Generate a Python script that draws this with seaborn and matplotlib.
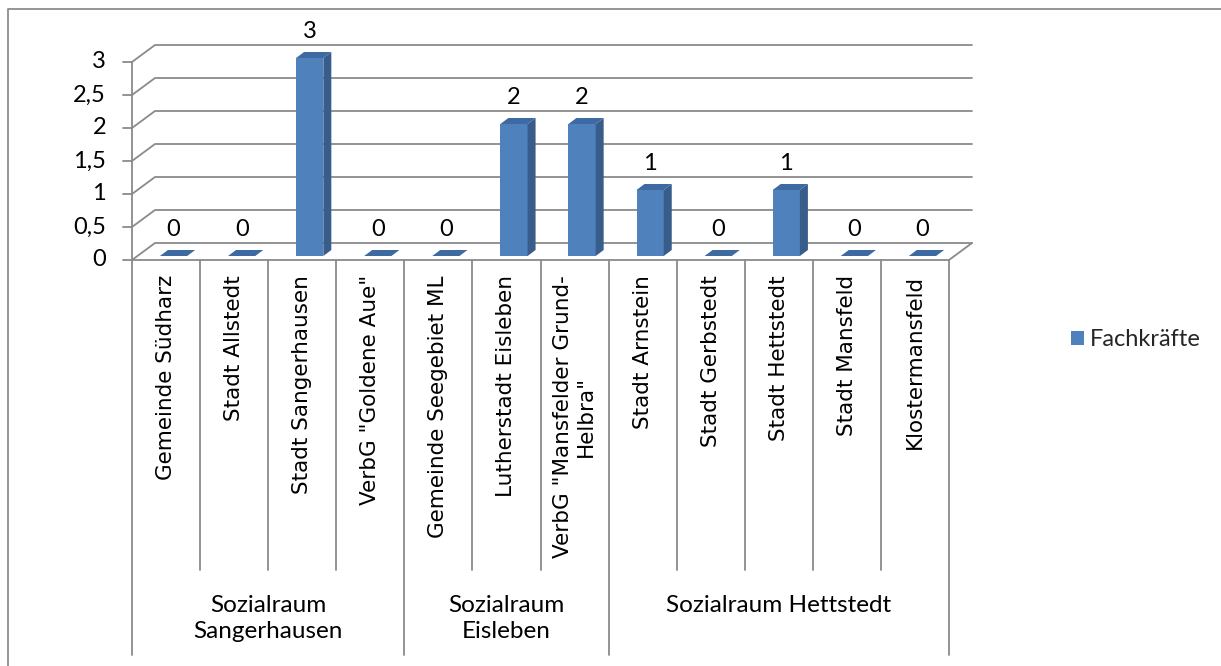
import matplotlib
matplotlib.use("Agg")
import matplotlib.pyplot as plt
import pandas as pd
import seaborn as sns
from matplotlib.lines import Line2D
from matplotlib.patches import Patch, Polygon
from matplotlib.transforms import IdentityTransform, ScaledTranslation

# data
gemeinden = [
    "Gemeinde Südharz", "Stadt Allstedt", "Stadt Sangerhausen", 'VerbG "Goldene Aue"',
    "Gemeinde Seegebiet ML", "Lutherstadt Eisleben", 'VerbG "Mansfelder Grund-\nHelbra"',
    "Stadt Arnstein", "Stadt Gerbstedt", "Stadt Hettstedt", "Stadt Mansfeld", "Klostermansfeld",
]
fachkraefte = [0, 0, 3, 0, 0, 2, 2, 1, 0, 1, 0, 0]
sozialraeume = ["Sozialraum\nSangerhausen", "Sozialraum\nEisleben", "Sozialraum Hettstedt"]
gruppen_groesse = [4, 3, 5]
y_ticks = [0, 0.5, 1, 1.5, 2, 2.5, 3]
serie = "Fachkräfte"

df = pd.DataFrame({"Gemeinde": gemeinden, serie: fachkraefte})

W, H, DPI = 1221, 666, 100
GRID = "#8A8A8A"
FRONT, SIDE, TOP = "#4F81BD", "#385D8A", "#3D6AA0"
NUM_FONT = "Lato"
LEAF_FONT = "DejaVu Sans"
FS = 17

sns.set_theme(style="white")
fig = plt.figure(figsize=(W / DPI, H / DPI), dpi=DPI)
fig.patch.set_facecolor("white")

# front plane of the 3d box, in pixels
x0_px, x1_px, y0_px, y1_px = 132, 949, 260, 62
ax = fig.add_axes([x0_px / W, (H - y0_px) / H, (x1_px - x0_px) / W, (y0_px - y1_px) / H])
sns.barplot(data=df, x="Gemeinde", y=serie, order=gemeinden, color=FRONT,
            saturation=1, width=0.4, ax=ax, zorder=3)
n = len(gemeinden)
ax.set_xlim(-0.5, n - 0.5)
ax.set_ylim(0, max(y_ticks))
ax.axis("off")

depth = (23, 17)        # back wall offset, px
bar_shift = (7.5, 4)    # bars sit mid depth
bar_depth = (8, 6)
ident = IdentityTransform()


def to_px(x, y):
    return ax.transData.transform((x, y))


def line_px(pts, **kw):
    xs, ys = zip(*pts)
    ax.add_artist(Line2D(xs, ys, transform=ident, color=GRID, lw=1.3, zorder=1,
                         clip_on=False, **kw))


# back wall gridlines with diagonals to the front axis
for v in y_ticks:
    fx, fy = to_px(-0.5, v)
    rx, ry = to_px(n - 0.5, v)
    line_px([(fx, fy), (fx + depth[0], fy + depth[1]), (rx + depth[0], ry + depth[1])])
    line_px([(fx - 9, fy), (fx, fy)])
    fig.text(fx - 26, fy, f"{v:g}".replace(".", ","), transform=ident, ha="right",
             va="center", fontsize=FS, family=NUM_FONT, color="black")

# front axis and floor edges
line_px([to_px(-0.5, 0), to_px(-0.5, max(y_ticks))])
line_px([to_px(-0.5, 0), to_px(n - 0.5, 0)])
rx, ry = to_px(n - 0.5, 0)
line_px([(rx, ry), (rx + depth[0], ry + depth[1])])

# category dividers, longer at the group borders
borders = [0]
for g in gruppen_groesse:
    borders.append(borders[-1] + g)
for k in range(n + 1):
    px, py = to_px(k - 0.5, 0)
    length = 395 if k in borders else 310
    line_px([(px, py), (px, py - length)])

# shift bars back and add side/top faces
shift = ax.transData + ScaledTranslation(bar_shift[0] / DPI, bar_shift[1] / DPI, fig.dpi_scale_trans)
for bar, val in zip(ax.patches, fachkraefte):
    bar.set_transform(shift)
    bar.set_edgecolor("none")
    bar.set_clip_on(False)
    bx, bw, bh = bar.get_x(), bar.get_width(), bar.get_height()
    tl = shift.transform((bx, bh))
    tr = shift.transform((bx + bw, bh))
    br = shift.transform((bx + bw, 0))
    dx, dy = bar_depth
    if bh > 0:
        ax.add_artist(Polygon([br, tr, (tr[0] + dx, tr[1] + dy), (br[0] + dx, br[1] + dy)],
                              closed=True, transform=ident, facecolor=SIDE, edgecolor="none",
                              zorder=4, clip_on=False))
    ax.add_artist(Polygon([tl, tr, (tr[0] + dx, tr[1] + dy), (tl[0] + dx, tl[1] + dy)],
                          closed=True, transform=ident, facecolor=TOP, edgecolor="none",
                          zorder=4, clip_on=False))
    cx, cy = shift.transform((bx + bw / 2, bh))
    fig.text(cx, cy + 27, f"{val:g}", transform=ident, ha="center", va="center",
             fontsize=FS, family=NUM_FONT, color="black")

# municipality labels
for i, name in enumerate(gemeinden):
    px, py = to_px(i, 0)
    fig.text(px, py - 15, name, transform=ident, rotation=90, ha="center", va="top",
             multialignment="center", fontsize=15.5, family=LEAF_FONT, color="black")

# region labels
for g, label in enumerate(sozialraeume):
    mid = (borders[g] + borders[g + 1]) / 2 - 0.5
    px, py = to_px(mid, 0)
    fig.text(px, py - 335, label, transform=ident, ha="center", va="top",
             fontsize=FS + 0.5, family=NUM_FONT, linespacing=1.3, color="black")

# legend
fig.legend(handles=[Patch(facecolor=FRONT, edgecolor="none", label=serie)],
           loc="center left", bbox_to_anchor=(1071 / W, (H - 340) / H), frameon=False,
           prop={"family": NUM_FONT, "size": FS}, handlelength=0.55, handleheight=0.55,
           handletextpad=0.25, borderaxespad=0, borderpad=0)

# chart area border (only top and left visible)
fig.add_artist(Line2D([7.5, 7.5, W], [0, H - 9, H - 9], transform=ident, color="#8C8C8C", lw=1.3))

fig.savefig("out.png", dpi=DPI, facecolor="white")
